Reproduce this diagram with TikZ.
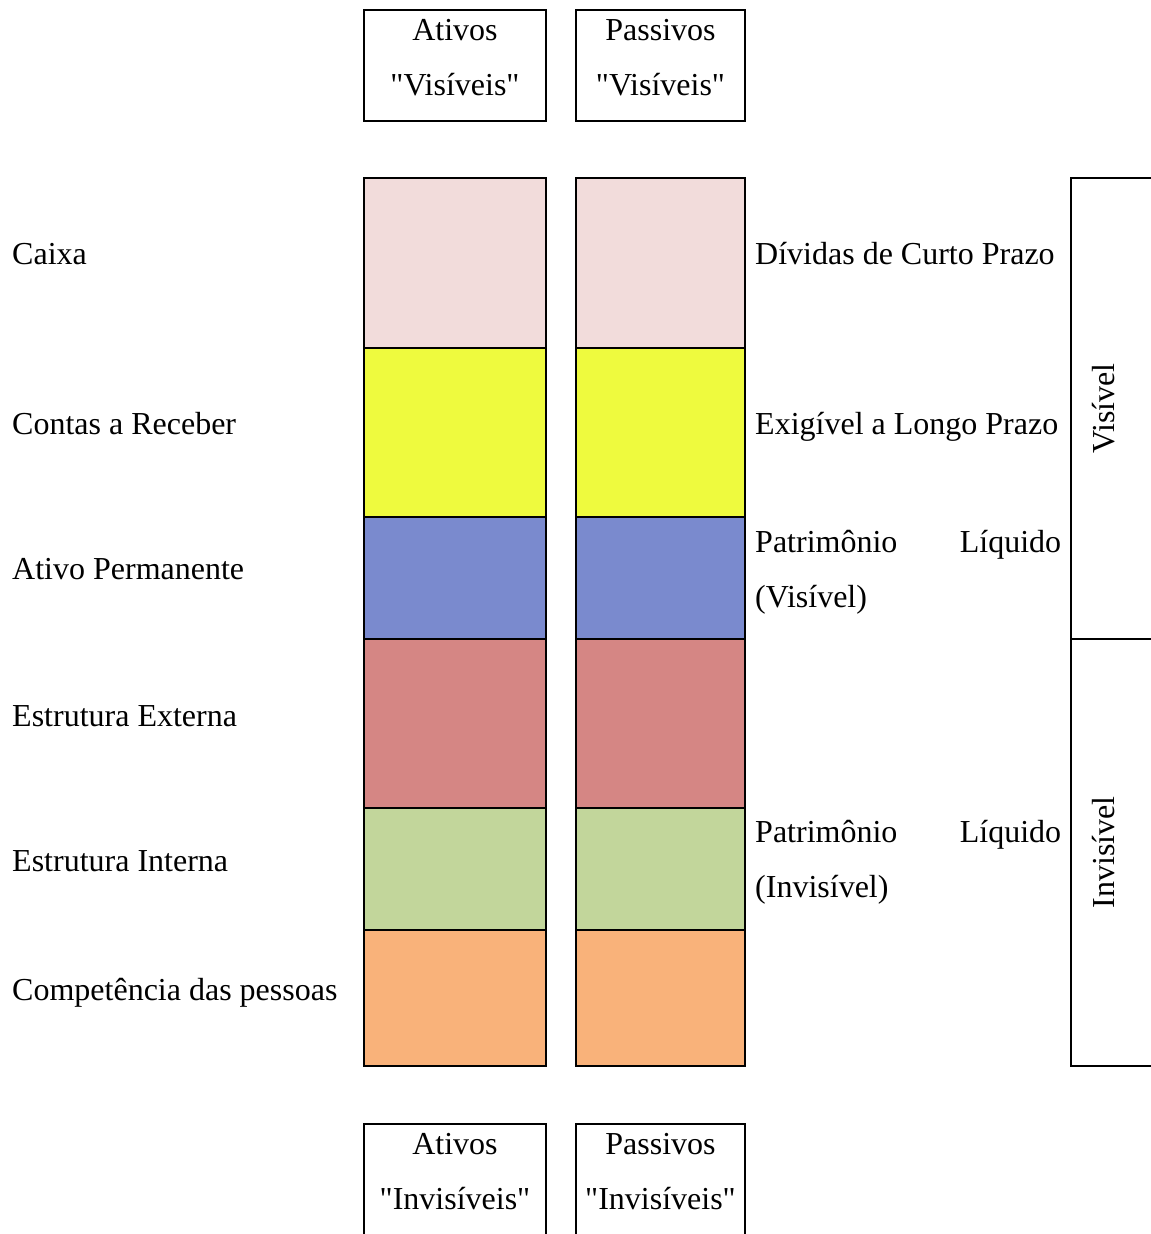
\documentclass[tikz,border=0pt]{standalone}
\usepackage{fontspec}
\setmainfont{Liberation Serif}[Ligatures=TeXOff]
\usetikzlibrary{positioning}
\definecolor{caixa}{HTML}{F2DCDB}
\definecolor{receber}{HTML}{EEFA3E}
\definecolor{permanente}{HTML}{7A8ACE}
\definecolor{externa}{HTML}{D58684}
\definecolor{interna}{HTML}{C2D69B}
\definecolor{pessoas}{HTML}{F9B27A}

\begin{document}
\begin{tikzpicture}[
  x=1pt, y=-1pt,
  every node/.style={font=\fontsize{32}{55}\selectfont},
  hdr/.style={
    draw, line width=1.5pt, outer sep=0pt,
    minimum width=182pt, minimum height=111pt,
  },
  hdrtxt/.style={anchor=base, inner sep=0pt, align=center, yshift=-85pt},
  band/.style={
    draw, line width=1.5pt, outer sep=0pt, inner sep=0pt,
    minimum width=182pt,
  },
  lbl/.style={anchor=base west, inner sep=0pt},
  pl/.style={anchor=base west, inner sep=0pt, text width=306pt, align=left},
  side/.style={draw, line width=1.5pt, outer sep=0pt, minimum width=90pt, anchor=north west},
  sidetxt/.style={rotate=90, inner sep=0pt},
]
  \useasboundingbox (0,0) rectangle (1151,1234);

  % top headers
  \node[hdr, anchor=north west]                       (atvvis) at (364,10) {};
  \node[hdr, minimum width=169pt, right=30pt of atvvis] (psvvis) {};
  \node[hdrtxt] at (atvvis.north) {Ativos\\"Visíveis"};
  \node[hdrtxt] at (psvvis.north) {Passivos\\"Visíveis"};

  % asset column
  \node[band, fill=caixa, minimum height=170pt, anchor=north west] (a1) at (364,178) {};
  \node[band, fill=receber,    minimum height=169pt, below=0pt of a1] (a2) {};
  \node[band, fill=permanente, minimum height=122pt, below=0pt of a2] (a3) {};
  \node[band, fill=externa,    minimum height=169pt, below=0pt of a3] (a4) {};
  \node[band, fill=interna,    minimum height=122pt, below=0pt of a4] (a5) {};
  \node[band, fill=pessoas,    minimum height=136pt, below=0pt of a5] (a6) {};

  % liability column
  \node[band, fill=caixa,      minimum width=169pt, minimum height=170pt, right=30pt of a1] (p1) {};
  \node[band, fill=receber,    minimum width=169pt, minimum height=169pt, right=30pt of a2] (p2) {};
  \node[band, fill=permanente, minimum width=169pt, minimum height=122pt, right=30pt of a3] (p3) {};
  \node[band, fill=externa,    minimum width=169pt, minimum height=169pt, right=30pt of a4] (p4) {};
  \node[band, fill=interna,    minimum width=169pt, minimum height=122pt, right=30pt of a5] (p5) {};
  \node[band, fill=pessoas,    minimum width=169pt, minimum height=136pt, right=30pt of a6] (p6) {};

  % left labels
  \node[lbl] (caixa)   at (12,264)  {Caixa};
  \node[lbl] (contas)  at (12,434)  {Contas a Receber};
  \node[lbl] (ativo)   at (12,579)  {Ativo Permanente};
  \node[lbl] (externa) at (12,726)  {Estrutura Externa};
  \node[lbl] (interna) at (12,871)  {Estrutura Interna};
  \node[lbl] (compet)  at (12,1000) {Competência das pessoas};

  % right labels
  \node[lbl] (dividas)  at (755,264) {Dívidas de Curto Prazo};
  \node[lbl] (exigivel) at (755,434) {Exigível a Longo Prazo};
  \node[pl]  (plvis)    at (755,552) {Patrimônio \hfill Líquido\\(Visível)};
  \node[pl]  (plinv)    at (755,842) {Patrimônio \hfill Líquido\\(Invisível)};

  % side brackets
  \node[side, minimum height=461pt] (vis) at (1071,178) {};
  \node[side, minimum height=427pt] (inv) at (1071,639) {};
  \node[sidetxt] (vistxt) at ([xshift=-12pt]vis.center) {Visível};
  \node[sidetxt] (invtxt) at ([xshift=-12pt]inv.center) {Invisível};

  % bottom headers
  \node[hdr, minimum height=130pt, anchor=north west]                  (atvinv) at (364,1124) {};
  \node[hdr, minimum width=169pt, minimum height=130pt, right=30pt of atvinv] (psvinv) {};
  \node[hdrtxt] at (atvinv.north) {Ativos\\"Invisíveis"};
  \node[hdrtxt] at (psvinv.north) {Passivos\\"Invisíveis"};
\end{tikzpicture}
\end{document}
